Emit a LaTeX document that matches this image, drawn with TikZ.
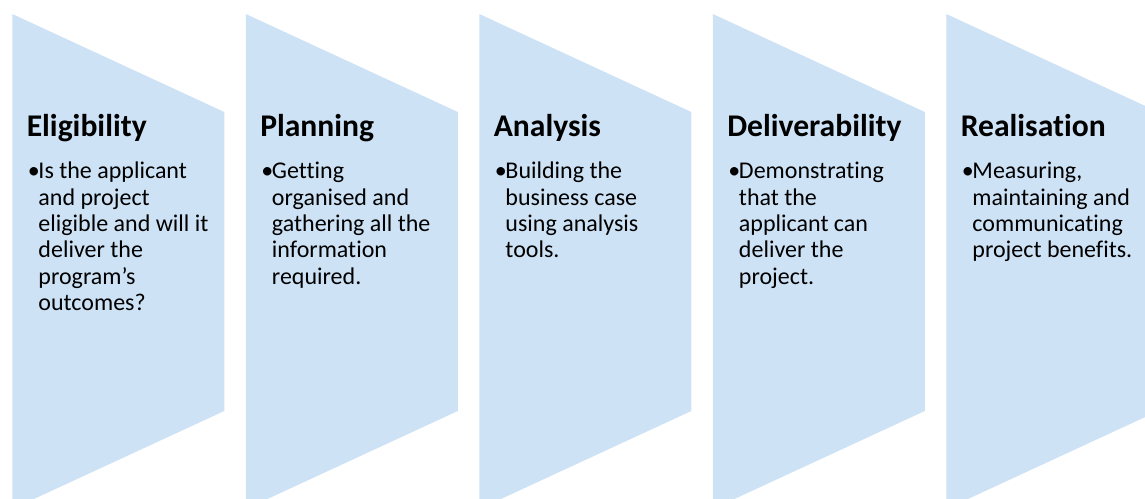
\documentclass[tikz,border=0pt]{standalone}
\usepackage{fontspec}
\setmainfont{Carlito}[Ligatures=NoCommon]
\definecolor{stageblue}{RGB}{206,226,245}
\newcommand{\stagetitle}{\fontsize{23.7pt}{28pt}\selectfont\bfseries}
\newcommand{\stagebody}{\fontsize{18pt}{19.7pt}\selectfont}
\tikzset{every picture/.style={line width=0.75pt}}
\tikzset{
  stage/.style={fill=stageblue, draw=none},
  stagehead/.style={anchor=base west, inner sep=0pt, font=\stagetitle},
  stagetext/.style={anchor=base west, inner sep=0pt, font=\stagebody}
}

\begin{document}
\begin{tikzpicture}[x=0.75pt,y=0.75pt,yscale=-1,xscale=1]
	\useasboundingbox (0,0) rectangle (1145,499);
	\clip (0,0) rectangle (1145,499);

	%Shape: Pentagon [eligibility]
	\draw [stage] (12.3,14) -- (224.3,112) -- (224.3,411) -- (12.3,509) -- cycle ;
	%Shape: Pentagon [planning]
	\draw [stage] (245.8,14) -- (457.8,112) -- (457.8,411) -- (245.8,509) -- cycle ;
	%Shape: Pentagon [analysis]
	\draw [stage] (479.3,14) -- (691.3,112) -- (691.3,411) -- (479.3,509) -- cycle ;
	%Shape: Pentagon [deliverability]
	\draw [stage] (712.8,14) -- (924.8,112) -- (924.8,411) -- (712.8,509) -- cycle ;
	%Shape: Pentagon [realisation]
	\draw [stage] (946.3,14) -- (1158.3,112) -- (1158.3,411) -- (946.3,509) -- cycle ;

	% Text Node
	\node [stagehead] (eligibility) at (26.3,137) {Eligibility};
	% Text Node
	\node [stagetext] (eligibility text) at (27.3,179) {\begin{tabular}[t]{@{}p{8pt}@{}l@{}}\textbullet & Is the applicant\\ & and project\\ & eligible and will it\\ & deliver the\\ & program’s\\ & outcomes?\end{tabular}};
	% Text Node
	\node [stagehead] (planning) at (259.8,137) {Planning};
	% Text Node
	\node [stagetext] (planning text) at (260.8,179) {\begin{tabular}[t]{@{}p{8pt}@{}l@{}}\textbullet & Getting\\ & organised and\\ & gathering all the\\ & information\\ & required.\end{tabular}};
	% Text Node
	\node [stagehead] (analysis) at (493.3,137) {Analysis};
	% Text Node
	\node [stagetext] (analysis text) at (494.3,179) {\begin{tabular}[t]{@{}p{8pt}@{}l@{}}\textbullet & Building the\\ & business case\\ & using analysis\\ & tools.\end{tabular}};
	% Text Node
	\node [stagehead] (deliverability) at (726.8,137) {Deliverability};
	% Text Node
	\node [stagetext] (deliverability text) at (727.8,179) {\begin{tabular}[t]{@{}p{8pt}@{}l@{}}\textbullet & Demonstrating\\ & that the\\ & applicant can\\ & deliver the\\ & project.\end{tabular}};
	% Text Node
	\node [stagehead] (realisation) at (960.3,137) {Realisation};
	% Text Node
	\node [stagetext] (realisation text) at (961.3,179) {\begin{tabular}[t]{@{}p{8pt}@{}l@{}}\textbullet & Measuring,\\ & maintaining and\\ & communicating\\ & project benefits.\end{tabular}};

\end{tikzpicture}
\end{document}
